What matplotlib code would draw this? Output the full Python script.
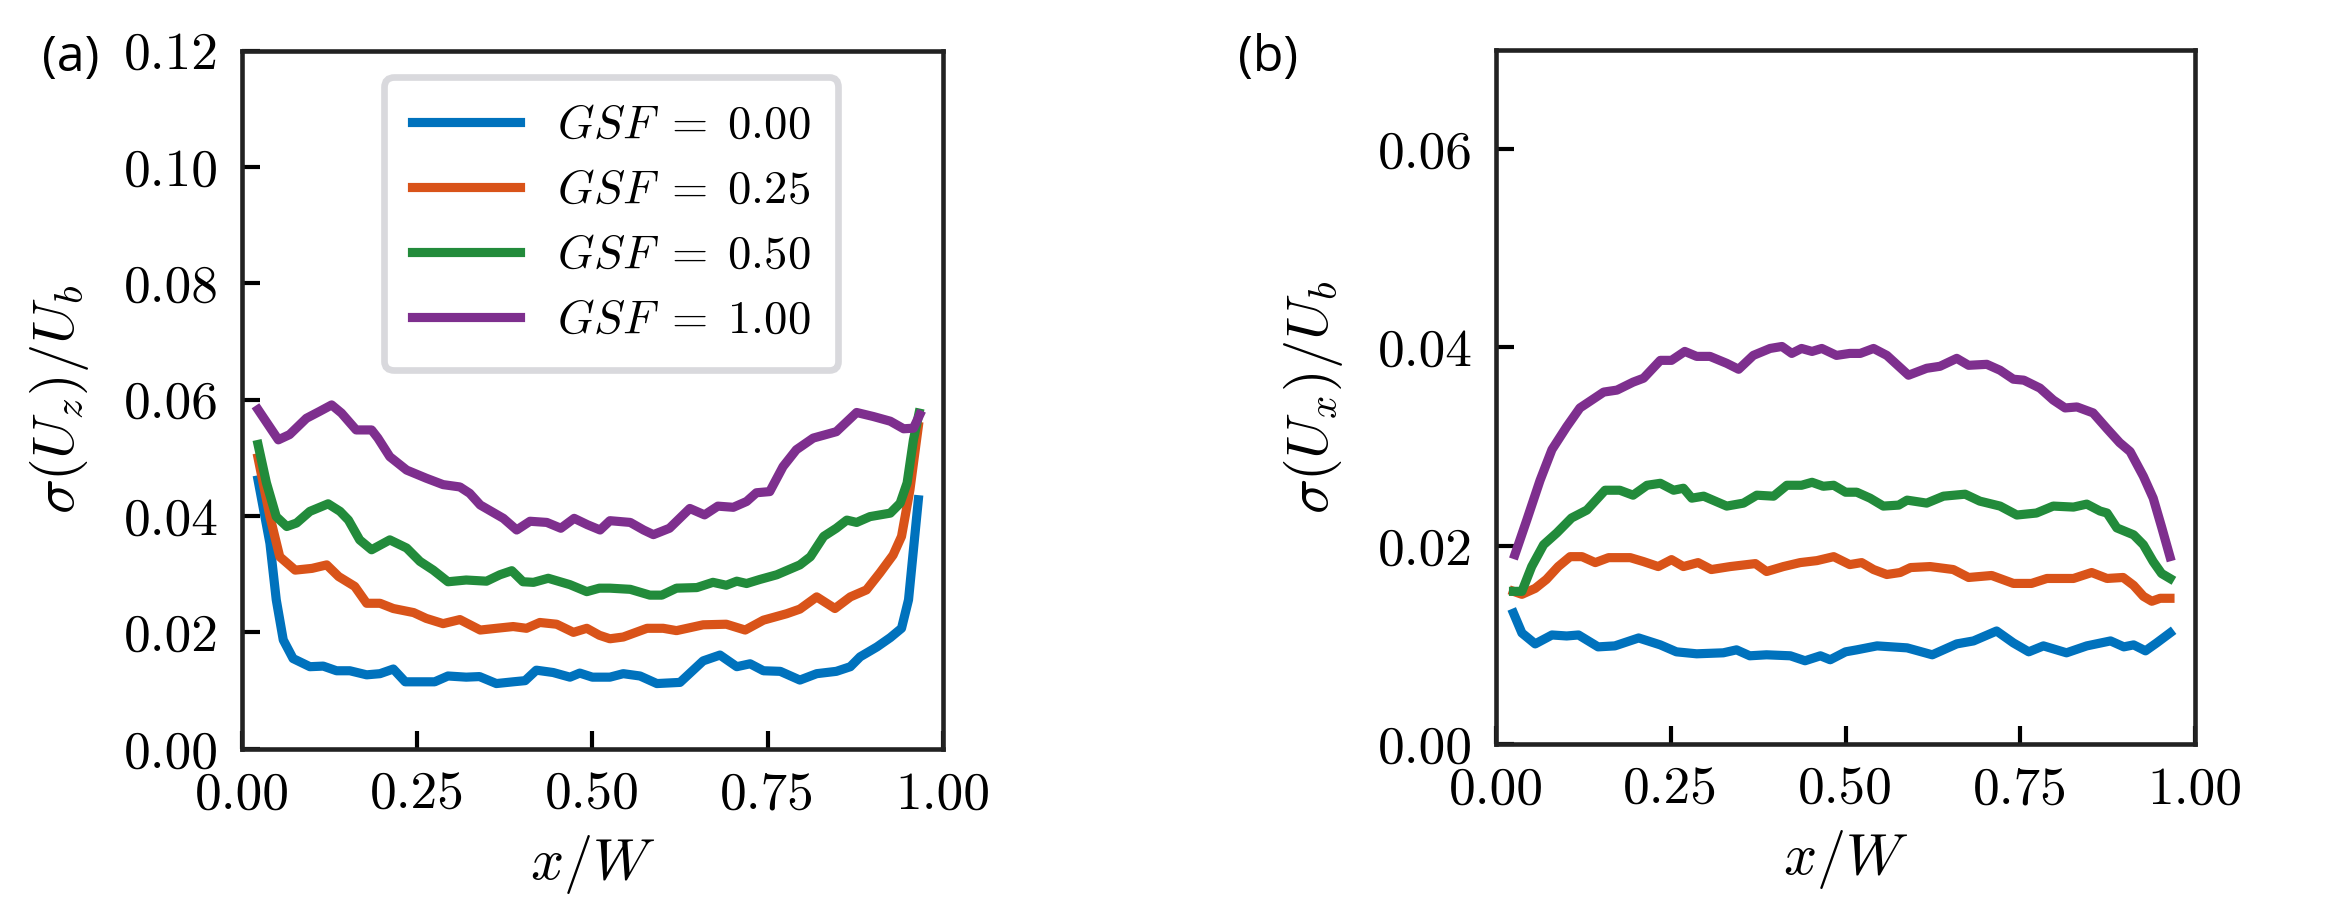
import numpy as np
import matplotlib
matplotlib.use("Agg")
import matplotlib.pyplot as plt
from matplotlib.ticker import FormatStrFormatter, MultipleLocator

plt.rcParams['font.family'] = 'serif'
plt.rcParams['font.serif'] = ['cmr10']
plt.rcParams['mathtext.fontset'] = 'cm'
plt.rcParams['axes.formatter.use_mathtext'] = True

# --- data ---
gsf_labels = ['0.00', '0.25', '0.50', '1.00']
colors = ['#0072BD', '#D95319', '#228B3B', '#7E2F8E']

# (a) sigma(Uz)/Ub
xa_000 = [0.023, 0.040, 0.049, 0.059, 0.073, 0.097, 0.116, 0.135, 0.154, 0.178, 0.197, 0.216,
          0.233, 0.259, 0.275, 0.294, 0.320, 0.339, 0.363, 0.387, 0.404, 0.420, 0.444, 0.468,
          0.482, 0.500, 0.525, 0.544, 0.568, 0.592, 0.625, 0.658, 0.682, 0.706, 0.725, 0.744,
          0.768, 0.796, 0.820, 0.848, 0.868, 0.882, 0.906, 0.925, 0.941, 0.951, 0.958, 0.965]
ya_000 = [0.0462, 0.0353, 0.0256, 0.0187, 0.0155, 0.0141, 0.0142, 0.0134, 0.0134, 0.0127, 0.0129, 0.0137,
          0.0115, 0.0115, 0.0115, 0.0125, 0.0123, 0.0124, 0.0112, 0.0115, 0.0117, 0.0135, 0.0131, 0.0123,
          0.0130, 0.0123, 0.0123, 0.0129, 0.0125, 0.0112, 0.0114, 0.0151, 0.0161, 0.0141, 0.0146, 0.0134,
          0.0133, 0.0118, 0.0129, 0.0133, 0.0141, 0.0158, 0.0175, 0.0191, 0.0207, 0.0256, 0.0342, 0.0428]

xa_025 = [0.023, 0.040, 0.054, 0.076, 0.100, 0.121, 0.138, 0.161, 0.178, 0.197, 0.216, 0.245,
          0.263, 0.287, 0.311, 0.340, 0.363, 0.387, 0.406, 0.425, 0.449, 0.473, 0.492, 0.510,
          0.525, 0.544, 0.578, 0.601, 0.620, 0.658, 0.691, 0.718, 0.744, 0.777, 0.796, 0.820,
          0.846, 0.868, 0.891, 0.910, 0.929, 0.941, 0.953, 0.965]
ya_025 = [0.0500, 0.0399, 0.0330, 0.0307, 0.0310, 0.0316, 0.0296, 0.0279, 0.0250, 0.0250, 0.0241, 0.0234,
          0.0224, 0.0215, 0.0222, 0.0204, 0.0207, 0.0210, 0.0207, 0.0217, 0.0214, 0.0200, 0.0207, 0.0195,
          0.0189, 0.0192, 0.0207, 0.0207, 0.0203, 0.0213, 0.0214, 0.0204, 0.0221, 0.0232, 0.0240, 0.0261,
          0.0241, 0.0261, 0.0273, 0.0302, 0.0333, 0.0365, 0.0445, 0.0554]

xa_050 = [0.023, 0.035, 0.049, 0.064, 0.078, 0.097, 0.123, 0.140, 0.152, 0.168, 0.185, 0.211,
          0.235, 0.254, 0.273, 0.294, 0.320, 0.349, 0.368, 0.385, 0.401, 0.416, 0.437, 0.468,
          0.492, 0.510, 0.525, 0.554, 0.582, 0.599, 0.620, 0.649, 0.672, 0.691, 0.706, 0.720,
          0.739, 0.763, 0.796, 0.811, 0.830, 0.848, 0.863, 0.877, 0.896, 0.925, 0.939, 0.949,
          0.958, 0.966]
ya_050 = [0.0523, 0.0457, 0.0399, 0.0382, 0.0388, 0.0408, 0.0421, 0.0408, 0.0393, 0.0359, 0.0342, 0.0359,
          0.0345, 0.0322, 0.0307, 0.0287, 0.0290, 0.0288, 0.0299, 0.0306, 0.0287, 0.0286, 0.0293, 0.0282,
          0.0270, 0.0276, 0.0276, 0.0274, 0.0264, 0.0264, 0.0276, 0.0277, 0.0286, 0.0281, 0.0288, 0.0284,
          0.0291, 0.0299, 0.0316, 0.0330, 0.0365, 0.0379, 0.0393, 0.0389, 0.0399, 0.0405, 0.0422, 0.0457,
          0.0531, 0.0577]

xa_100 = [0.023, 0.052, 0.068, 0.092, 0.111, 0.128, 0.142, 0.163, 0.185, 0.194, 0.211, 0.235,
          0.263, 0.287, 0.311, 0.325, 0.340, 0.373, 0.392, 0.411, 0.435, 0.455, 0.474, 0.493,
          0.511, 0.525, 0.554, 0.573, 0.587, 0.610, 0.639, 0.660, 0.679, 0.701, 0.720, 0.734,
          0.753, 0.772, 0.791, 0.815, 0.848, 0.877, 0.901, 0.925, 0.944, 0.958, 0.967]
ya_100 = [0.0583, 0.0531, 0.0540, 0.0568, 0.0580, 0.0591, 0.0577, 0.0548, 0.0548, 0.0534, 0.0502, 0.0479,
          0.0465, 0.0454, 0.0450, 0.0439, 0.0419, 0.0396, 0.0376, 0.0391, 0.0389, 0.0379, 0.0396, 0.0385,
          0.0376, 0.0392, 0.0389, 0.0376, 0.0368, 0.0379, 0.0413, 0.0402, 0.0417, 0.0415, 0.0425, 0.0440,
          0.0442, 0.0485, 0.0514, 0.0534, 0.0545, 0.0578, 0.0571, 0.0563, 0.0550, 0.0551, 0.0574]

# (b) sigma(Ux)/Ub
xb_000 = [0.025, 0.037, 0.056, 0.080, 0.101, 0.118, 0.146, 0.170, 0.204, 0.235, 0.258, 0.287,
          0.325, 0.344, 0.363, 0.387, 0.421, 0.442, 0.464, 0.478, 0.500, 0.516, 0.545, 0.588,
          0.624, 0.659, 0.683, 0.716, 0.740, 0.762, 0.783, 0.816, 0.845, 0.879, 0.898, 0.912,
          0.929, 0.945, 0.964]
yb_000 = [0.0132, 0.0112, 0.0101, 0.0110, 0.0109, 0.0110, 0.0098, 0.0099, 0.0107, 0.0100, 0.0093, 0.0091,
          0.0092, 0.0095, 0.0089, 0.0090, 0.0089, 0.0084, 0.0089, 0.0085, 0.0093, 0.0095, 0.0099, 0.0097,
          0.0090, 0.0101, 0.0104, 0.0114, 0.0102, 0.0093, 0.0099, 0.0092, 0.0099, 0.0104, 0.0098, 0.0100,
          0.0094, 0.0102, 0.0112]

xb_025 = [0.025, 0.037, 0.056, 0.072, 0.089, 0.106, 0.123, 0.142, 0.161, 0.192, 0.211, 0.232,
          0.251, 0.268, 0.289, 0.308, 0.335, 0.371, 0.387, 0.411, 0.435, 0.459, 0.483, 0.506,
          0.523, 0.540, 0.559, 0.578, 0.593, 0.621, 0.654, 0.676, 0.709, 0.740, 0.766, 0.788,
          0.826, 0.852, 0.874, 0.897, 0.912, 0.926, 0.938, 0.950, 0.964]
yb_025 = [0.0154, 0.0151, 0.0157, 0.0166, 0.0179, 0.0189, 0.0189, 0.0183, 0.0188, 0.0188, 0.0184, 0.0179,
          0.0186, 0.0179, 0.0183, 0.0176, 0.0179, 0.0182, 0.0174, 0.0179, 0.0183, 0.0185, 0.0189, 0.0181,
          0.0183, 0.0176, 0.0171, 0.0173, 0.0178, 0.0179, 0.0176, 0.0168, 0.0170, 0.0162, 0.0162, 0.0167,
          0.0167, 0.0173, 0.0167, 0.0168, 0.0160, 0.0149, 0.0144, 0.0147, 0.0147]

xb_050 = [0.025, 0.037, 0.051, 0.068, 0.087, 0.108, 0.130, 0.156, 0.177, 0.196, 0.216, 0.235,
          0.254, 0.268, 0.280, 0.297, 0.330, 0.354, 0.373, 0.397, 0.416, 0.437, 0.452, 0.468,
          0.483, 0.500, 0.516, 0.535, 0.554, 0.576, 0.588, 0.616, 0.640, 0.671, 0.692, 0.721,
          0.745, 0.773, 0.797, 0.826, 0.845, 0.864, 0.874, 0.888, 0.912, 0.926, 0.940, 0.952,
          0.964]
yb_050 = [0.0154, 0.0154, 0.0179, 0.0201, 0.0213, 0.0228, 0.0236, 0.0256, 0.0256, 0.0251, 0.0261, 0.0263,
          0.0256, 0.0258, 0.0248, 0.0250, 0.0240, 0.0243, 0.0251, 0.0250, 0.0261, 0.0261, 0.0264, 0.0260,
          0.0261, 0.0254, 0.0254, 0.0248, 0.0240, 0.0241, 0.0246, 0.0243, 0.0250, 0.0252, 0.0245, 0.0240,
          0.0231, 0.0233, 0.0240, 0.0239, 0.0242, 0.0235, 0.0233, 0.0218, 0.0211, 0.0201, 0.0184, 0.0172,
          0.0167]

xb_100 = [0.027, 0.044, 0.063, 0.080, 0.101, 0.120, 0.154, 0.173, 0.196, 0.211, 0.235, 0.251,
          0.270, 0.287, 0.306, 0.330, 0.347, 0.368, 0.392, 0.409, 0.423, 0.437, 0.452, 0.466,
          0.487, 0.506, 0.521, 0.540, 0.559, 0.590, 0.616, 0.635, 0.659, 0.676, 0.702, 0.721,
          0.740, 0.755, 0.778, 0.797, 0.814, 0.831, 0.854, 0.874, 0.892, 0.907, 0.926, 0.940,
          0.952, 0.964]
yb_100 = [0.0191, 0.0226, 0.0266, 0.0297, 0.0320, 0.0339, 0.0355, 0.0357, 0.0365, 0.0369, 0.0387, 0.0387,
          0.0396, 0.0391, 0.0391, 0.0384, 0.0378, 0.0392, 0.0399, 0.0401, 0.0394, 0.0399, 0.0396, 0.0399,
          0.0392, 0.0394, 0.0394, 0.0399, 0.0392, 0.0372, 0.0379, 0.0381, 0.0389, 0.0382, 0.0383, 0.0377,
          0.0368, 0.0367, 0.0359, 0.0347, 0.0339, 0.0340, 0.0334, 0.0318, 0.0304, 0.0295, 0.0270, 0.0248,
          0.0219, 0.0189]

series_a = [(xa_000, ya_000), (xa_025, ya_025), (xa_050, ya_050), (xa_100, ya_100)]
series_b = [(xb_000, yb_000), (xb_025, yb_025), (xb_050, yb_050), (xb_100, yb_100)]

fig = plt.figure(figsize=(2335 / 300, 900 / 300), dpi=300)
ax1 = fig.add_axes([0.1036, 0.1681, 0.3002, 0.7756])
ax2 = fig.add_axes([0.6407, 0.1733, 0.2994, 0.7711])


def style(ax, ymax, ystep):
    ax.set_xlim(0, 1)
    ax.set_ylim(0, ymax)
    ax.xaxis.set_major_locator(MultipleLocator(0.25))
    ax.yaxis.set_major_locator(MultipleLocator(ystep))
    ax.xaxis.set_major_formatter(FormatStrFormatter('%.2f'))
    ax.yaxis.set_major_formatter(FormatStrFormatter('%.2f'))
    ax.tick_params(direction='in', length=4.4, width=1.0, labelsize=12.8, pad=5.5)
    for s in ax.spines.values():
        s.set_linewidth(1.1)
        s.set_color('#222222')
    ax.set_xlabel(r'$x/W$', fontsize=14, labelpad=3.5)


for (x, y), c, lab in zip(series_a, colors, gsf_labels):
    ax1.plot(x, y, color=c, lw=2.2, label=r'$GSF\;=\;%s$' % lab)
for (x, y), c in zip(series_b, colors):
    ax2.plot(x, y, color=c, lw=2.2)

style(ax1, 0.12, 0.02)
style(ax2, 0.07, 0.02)
ax1.set_ylabel(r'$\sigma(U_z)/U_b$', fontsize=14, labelpad=8)
ax2.set_ylabel(r'$\sigma(U_x)/U_b$', fontsize=14, labelpad=8)

leg = ax1.legend(loc='upper center', bbox_to_anchor=(0.527, 0.962), borderaxespad=0,
                 fontsize=11.2, handlelength=2.3, handletextpad=0.8, labelspacing=0.5,
                 borderpad=0.6, fancybox=True, framealpha=1)
leg.get_frame().set_edgecolor('#d9d9dd')
leg.get_frame().set_linewidth(1.6)

fig.text(42 / 2335, 1 - 58 / 900, '(a)', family='Open Sans', fontsize=12, va='center', ha='left')
fig.text(1238 / 2335, 1 - 58 / 900, '(b)', family='Open Sans', fontsize=12, va='center', ha='left')

fig.savefig('out.png', dpi=300)
